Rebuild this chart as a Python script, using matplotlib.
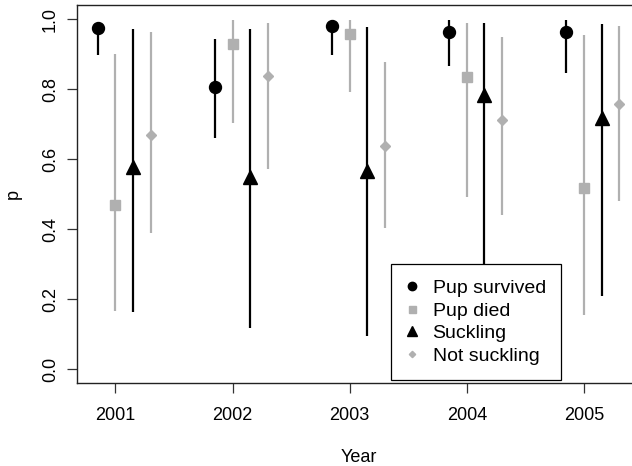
#!/usr/bin/env python3

"""
Survival / suckling probabilities by year, with intervals
"""

import numpy as np
import matplotlib.pyplot as plt

plt.rcParams['font.family'] = ['Liberation Sans', 'DejaVu Sans']

years = [2001, 2002, 2003, 2004, 2005]

# pup survived
survived = [0.975, 0.805, 0.981, 0.964, 0.964]
survived_lo = [0.896, 0.661, 0.898, 0.867, 0.847]
survived_hi = [0.990, 0.943, 0.998, 0.996, 0.996]

# pup died
died = [0.468, 0.928, 0.957, 0.834, 0.517]
died_lo = [0.166, 0.704, 0.791, 0.492, 0.155]
died_hi = [0.900, 0.996, 0.996, 0.990, 0.953]

# suckling
suckling = [0.577, 0.549, 0.565, 0.783, 0.718]
suckling_lo = [0.164, 0.116, 0.093, 0.280, 0.210]
suckling_hi = [0.971, 0.971, 0.977, 0.990, 0.986]

# not suckling
not_suckling = [0.670, 0.836, 0.638, 0.711, 0.758]
not_suckling_lo = [0.390, 0.571, 0.403, 0.439, 0.479]
not_suckling_hi = [0.963, 0.988, 0.878, 0.950, 0.981]

labels = ["Pup survived", "Pup died", "Suckling", "Not suckling"]

grey = "#b0b0b0"
series = [
    (survived, survived_lo, survived_hi, -0.15, "o", "black", 8.6),
    (died, died_lo, died_hi, 0.0, "s", grey, 7.2),
    (suckling, suckling_lo, suckling_hi, 0.15, "^", "black", 10.0),
    (not_suckling, not_suckling_lo, not_suckling_hi, 0.30, "D", grey, 4.6),
]

fig = plt.figure(figsize=(6.32, 4.66), dpi=100)
ax = fig.add_axes([77 / 632, 83 / 466, 563 / 632, 378 / 466])

x = np.array(years, dtype=float)
for (p, lo, hi, off, mk, col, ms), lab in zip(series, labels):
    # interval bars, then the point estimate on top
    ax.vlines(x + off, lo, hi, colors=col, linewidth=1.6)
    ax.plot(x + off, p, linestyle="none", marker=mk, color=col,
            markersize=ms, label=lab)

ax.set_xlim(2000.672, 2005.478)
ax.set_ylim(-0.04, 1.04)
ax.set_xticks(years)
ax.set_xticklabels([str(y) for y in years])
ax.set_yticks([0.0, 0.2, 0.4, 0.6, 0.8, 1.0])
ax.set_yticklabels(["0.0", "0.2", "0.4", "0.6", "0.8", "1.0"],
                   rotation=90, va="center")
ax.tick_params(axis="both", labelsize=13, length=7, width=0.9, color="#333333")
ax.tick_params(axis="x", pad=10)
ax.tick_params(axis="y", pad=6)
for s in ax.spines.values():
    s.set_linewidth(1.0)
    s.set_color("#222222")

ax.set_xlabel("Year", fontsize=13, labelpad=18)
ax.set_ylabel("p", fontsize=13)
ax.yaxis.set_label_coords(-0.0977, 0.5)

leg = ax.legend(loc="upper left", bbox_to_anchor=(0.5577, 0.3148),
                borderaxespad=0, frameon=True, fancybox=False, framealpha=1,
                edgecolor="black", fontsize=14, markerscale=0.7,
                handlelength=0.6, handletextpad=0.74, labelspacing=0.25,
                borderpad=0.8)
leg.get_frame().set_linewidth(0.9)

fig.savefig("out.png", dpi=100)
